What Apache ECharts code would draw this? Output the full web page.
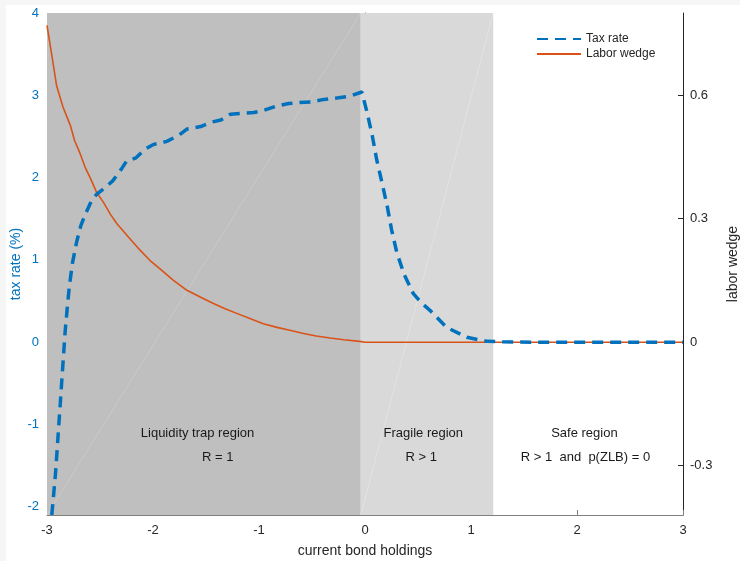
<!DOCTYPE html>
<html>
<head>
<meta charset="utf-8">
<script src="https://cdn.jsdelivr.net/npm/echarts@6/dist/echarts.min.js"></script>
<style>
html,body{margin:0;padding:0;background:#f6f6f6;}
#c{position:absolute;left:6px;top:5px;width:734px;height:556px;background:#ffffff;}
</style>
</head>
<body>
<div id="c"></div>
<script>
// ---- data ----
const taxX = [-2.955,-2.94,-2.92,-2.905,-2.89,-2.875,-2.86,-2.845,-2.83,-2.81,-2.79,-2.76,-2.72,-2.68,-2.64,-2.58,-2.53,-2.45,-2.38,-2.30,-2.25,-2.16,-2.08,-2.0,-1.87,-1.75,-1.68,-1.55,-1.46,-1.36,-1.27,-1.15,-1.05,-0.95,-0.83,-0.72,-0.64,-0.5,-0.39,-0.25,-0.14,-0.03,0.02,0.07,0.11,0.16,0.21,0.25,0.30,0.37,0.456,0.53,0.61,0.77,0.96,1.15,1.3,1.6,2.0,2.5,3.0];
const taxY = [-2.1,-1.89,-1.60,-1.32,-1.03,-0.75,-0.46,-0.18,0.11,0.40,0.67,0.96,1.22,1.42,1.55,1.72,1.80,1.88,1.96,2.10,2.20,2.24,2.34,2.40,2.44,2.52,2.59,2.62,2.67,2.70,2.77,2.78,2.79,2.82,2.87,2.90,2.91,2.92,2.95,2.97,2.99,3.04,2.79,2.50,2.22,1.94,1.65,1.37,1.09,0.82,0.59,0.48,0.39,0.18,0.06,0.01,0.005,0,0,0,0];
const wedgeX = [-3.0,-2.95,-2.91,-2.85,-2.78,-2.74,-2.69,-2.64,-2.59,-2.53,-2.47,-2.40,-2.34,-2.23,-2.12,-2.03,-1.92,-1.81,-1.68,-1.55,-1.43,-1.32,-1.21,-1.08,-0.96,-0.83,-0.71,-0.58,-0.46,-0.33,-0.2,-0.05,0,0.5,1,1.5,2,2.5,3];
const wedgeY = [0.77,0.69,0.624,0.572,0.527,0.49,0.46,0.425,0.398,0.363,0.341,0.31,0.288,0.255,0.223,0.199,0.175,0.151,0.126,0.109,0.094,0.081,0.07,0.057,0.045,0.036,0.029,0.021,0.015,0.01,0.006,0.002,0,0,0,0,0,0,0];
const regionBounds = [-3, -0.04, 1.21];
const regionNames = ['Liquidity trap region', 'Fragile region', 'Safe region'];
const regionSub = ['R = 1', 'R > 1', 'R > 1  and  p(ZLB) = 0'];
const regionLabelX = [-1.58, 0.55, 2.07];
const regionSubX = [-1.39, 0.53, 2.08];
const labelY = [-1.11, -1.40];
const xTicks = [-3,-2,-1,0,1,2,3];
const leftTicks = [-2,-1,0,1,2,3,4];
const rightTicks = [-0.3,0,0.3,0.6];
const leftRange = [-2.1, 4];
const rightRange = [-0.42, 0.8];

const font = 'Liberation Sans, Arial, Helvetica, sans-serif';
const txt = '#262626';
const blue = '#0072BD';
const orange = '#D95319';

const pairs = (xs, ys) => xs.map((x, i) => [x, ys[i]]);

const labelData = [];
regionNames.forEach((n, i) => {
  labelData.push({ value: [regionLabelX[i], labelY[0]], name: n });
  labelData.push({ value: [regionSubX[i], labelY[1]], name: regionSub[i] });
});

const chart = echarts.init(document.getElementById('c'), null, { renderer: 'canvas' });
chart.setOption({
  animation: false,
  backgroundColor: '#ffffff',
  textStyle: { fontFamily: font },
  grid: { left: 41, right: 57, top: 8, bottom: 46, containLabel: false, outerBoundsMode: 'none' },
  legend: {
    orient: 'vertical', left: 525, top: 23,
    itemWidth: 44, itemHeight: 14, itemGap: 3,
    itemStyle: { opacity: 0 },
    textStyle: { fontFamily: font, fontSize: 12, color: txt },
    data: ['Tax rate', 'Labor wedge']
  },
  xAxis: {
    type: 'value', min: -3, max: 3, interval: 1,
    name: 'current bond holdings', nameLocation: 'middle', nameGap: 29,
    nameTextStyle: { fontFamily: font, fontSize: 14, color: txt },
    axisLine: { onZero: false, lineStyle: { color: '#808080', width: 1 } },
    axisTick: { inside: true, length: 5, lineStyle: { color: '#808080' } },
    axisLabel: { color: txt, fontSize: 13, fontFamily: font, margin: 9 },
    splitLine: { show: false }
  },
  yAxis: [
    {
      type: 'value', min: leftRange[0], max: leftRange[1], position: 'left',
      name: 'tax rate (%)', nameLocation: 'middle', nameGap: 24, nameRotate: 90, nameMoveOverlap: false,
      nameTextStyle: { fontFamily: font, fontSize: 14, color: blue },
      axisLine: { show: true, lineStyle: { color: blue, width: 1 } },
      axisTick: { show: true, inside: true, length: 5, customValues: leftTicks, lineStyle: { color: blue } },
      axisLabel: { color: blue, fontSize: 13, fontFamily: font, margin: 8, customValues: leftTicks },
      splitLine: { show: false }
    },
    {
      type: 'value', min: rightRange[0], max: rightRange[1], position: 'right',
      name: 'labor wedge', nameLocation: 'middle', nameGap: 43, nameRotate: 90, nameMoveOverlap: false,
      nameTextStyle: { fontFamily: font, fontSize: 14, color: txt },
      axisLine: { show: true, lineStyle: { color: txt, width: 1 } },
      axisTick: { show: true, inside: true, length: 5, customValues: rightTicks, lineStyle: { color: txt } },
      axisLabel: { color: txt, fontSize: 13, fontFamily: font, margin: 7, customValues: rightTicks },
      splitLine: { show: false }
    }
  ],
  series: [
    {
      name: 'regions', type: 'line', data: [], z: 0, silent: true,
      markArea: {
        silent: true,
        data: [
          [{ xAxis: regionBounds[0], itemStyle: { color: '#bfbfbf', opacity: 1 } }, { xAxis: regionBounds[1] }],
          [{ xAxis: regionBounds[1], itemStyle: { color: '#d9d9d9', opacity: 1 } }, { xAxis: regionBounds[2] }]
        ]
      }
    },
    {
      name: 'diag1', type: 'line', silent: true, z: 1, symbol: 'none',
      data: [[regionBounds[0], leftRange[0]], [regionBounds[1], leftRange[1]]],
      lineStyle: { color: 'rgba(255,255,255,0.22)', width: 0.8 }
    },
    {
      name: 'diag2', type: 'line', silent: true, z: 1, symbol: 'none',
      data: [[regionBounds[1], leftRange[0]], [regionBounds[2], leftRange[1]]],
      lineStyle: { color: 'rgba(255,255,255,0.3)', width: 0.8 }
    },
    {
      name: 'labels', type: 'scatter', silent: true, z: 2, symbolSize: 0,
      itemStyle: { opacity: 1 },
      data: labelData,
      label: { show: true, position: 'inside', formatter: p => p.name, color: '#1a1a1a', opacity: 1, fontSize: 13, fontFamily: font }
    },
    {
      name: 'Labor wedge', type: 'line', yAxisIndex: 1, z: 3, symbol: 'none', showSymbol: false,
      data: pairs(wedgeX, wedgeY),
      lineStyle: { color: orange, width: 1.6 }, itemStyle: { color: orange }
    },
    {
      name: 'Tax rate', type: 'line', yAxisIndex: 0, z: 4, symbol: 'none', showSymbol: false,
      data: pairs(taxX, taxY),
      lineStyle: { color: blue, width: 3.5, type: [11, 7] }, itemStyle: { color: blue }
    }
  ]
});
</script>
</body>
</html>
